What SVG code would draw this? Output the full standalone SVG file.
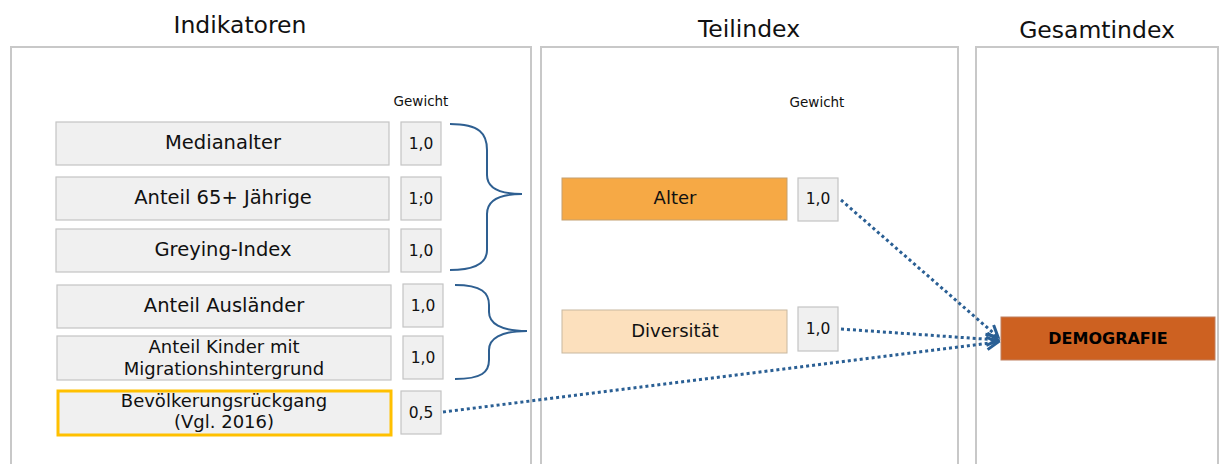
<svg xmlns="http://www.w3.org/2000/svg" width="1219" height="464" viewBox="0 0 1219 464">
<style>
text{font-family:"DejaVu Sans","Liberation Sans",sans-serif;fill:#111;text-anchor:middle}
.title{font-size:23.5px}
.lbl{font-size:19.5px}
.lbl2{font-size:18px}
.w{font-size:15.5px}
.small{font-size:13.5px}
.panel{fill:#fff;stroke:#c8c8c8;stroke-width:2}
.ind{fill:#f0f0f0;stroke:#c4c4c4;stroke-width:1.2}
.wb{fill:#f0f0f0;stroke:#c4c4c4;stroke-width:1.2}
.brace{fill:none;stroke:#2e5f91;stroke-width:2}
.conn{fill:none;stroke:#2a5f94;stroke-width:3;stroke-dasharray:3 3}
</style>
<defs>
<marker id="arr" viewBox="0 0 12 12" refX="10" refY="6" markerWidth="5" markerHeight="5" orient="auto" markerUnits="strokeWidth">
<path d="M1,1 L10,6 L1,11" fill="none" stroke="#2a5f94" stroke-width="2.4"/>
</marker>
</defs>
<rect width="1219" height="464" fill="#fff"/>
<g id="panels">
<rect class="panel" x="11" y="47" width="520" height="430"/>
<rect class="panel" x="541" y="47" width="417" height="430"/>
<rect class="panel" x="976" y="47" width="242" height="430"/>
<text class="title" x="240" y="33">Indikatoren</text>
<text class="title" x="749" y="37">Teilindex</text>
<text class="title" x="1097" y="38">Gesamtindex</text>
<text class="small" x="421" y="106">Gewicht</text>
<text class="small" x="817" y="107">Gewicht</text>
</g>
<g id="n-medianalter"><rect class="ind" x="56" y="122" width="333" height="43"/><text class="lbl" x="223" y="149">Medianalter</text>
<rect class="wb" x="401" y="122" width="40" height="43"/><text class="w" x="421" y="149">1,0</text></g>
<g id="n-anteil65"><rect class="ind" x="56" y="177" width="333" height="43"/><text class="lbl" x="223" y="204">Anteil 65+ Jährige</text>
<rect class="wb" x="401" y="177" width="40" height="43"/><text class="w" x="421" y="204">1;0</text></g>
<g id="n-greying"><rect class="ind" x="56" y="229" width="333" height="43"/><text class="lbl" x="223" y="256">Greying-Index</text>
<rect class="wb" x="401" y="229" width="40" height="43"/><text class="w" x="421" y="256">1,0</text></g>
<g id="n-auslaender"><rect class="ind" x="57" y="285" width="334" height="43"/><text class="lbl" x="224" y="312">Anteil Ausländer</text>
<rect class="wb" x="403" y="284" width="40" height="43"/><text class="w" x="423" y="311">1,0</text></g>
<g id="n-kinder"><rect class="ind" x="57" y="336" width="334" height="44"/><text class="lbl2" x="224" y="353">Anteil Kinder mit</text><text class="lbl2" x="224" y="375">Migrationshintergrund</text>
<rect class="wb" x="403" y="336" width="40" height="43"/><text class="w" x="423" y="363">1,0</text></g>
<g id="n-bevoelkerung"><rect x="58" y="391" width="333" height="44" fill="#f0f0f0" stroke="#ffc000" stroke-width="3"/><text class="lbl2" x="224" y="407">Bevölkerungsrückgang</text><text class="lbl2" x="224" y="428">(Vgl. 2016)</text>
<rect class="wb" x="401" y="391" width="40" height="43"/><text class="w" x="421" y="418">0,5</text></g>
<g id="braces">
<path class="brace" d="M450,124 C480,124 487,134 487,150 L487,175 C487,188 500,194 522,194 C500,194 487,200 487,214 L487,250 C487,262 478,270 450,270"/>
<path class="brace" d="M455,285 C482,285 489,293 489,305 L489,312 C489,323 500,331 527,331 C500,331 489,339 489,350 L489,360 C489,372 482,379 455,379"/>
</g>
<g id="n-alter"><rect x="562" y="178" width="225" height="42" fill="#f6a945" stroke="#c4a070" stroke-width="1"/><text class="lbl2" x="675" y="204">Alter</text>
<rect class="wb" x="798" y="178" width="40" height="43"/><text class="w" x="818" y="204">1,0</text></g>
<g id="n-diversitaet"><rect x="562" y="310" width="225" height="43" fill="#fce0bd" stroke="#c8b8a0" stroke-width="1"/><text class="lbl2" x="675" y="337">Diversität</text>
<rect class="wb" x="798" y="307" width="40" height="44"/><text class="w" x="818" y="334">1,0</text></g>
<g id="n-demografie"><rect x="1001" y="317" width="214" height="43" fill="#cd6121" stroke="#c08060" stroke-width="1"/><text x="1108" y="344" style="font-size:16px;font-weight:bold;fill:#000">DEMOGRAFIE</text></g>
<g id="connectors">
<path class="conn" d="M841,200 L998,337" marker-end="url(#arr)"/>
<path class="conn" d="M841,329 L998,340" marker-end="url(#arr)"/>
<path class="conn" d="M443,412 L998,342" marker-end="url(#arr)"/>
</g>
</svg>
